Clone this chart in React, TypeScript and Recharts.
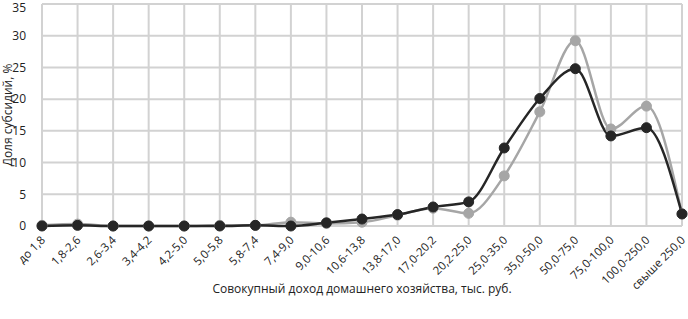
import { LineChart, Line, XAxis, YAxis, CartesianGrid } from "recharts";

// income brackets, thousand rubles
const categories = [
  "до 1,8",
  "1,8-2,6",
  "2,6-3,4",
  "3,4-4,2",
  "4,2-5,0",
  "5,0-5,8",
  "5,8-7,4",
  "7,4-9,0",
  "9,0-10,6",
  "10,6-13,8",
  "13,8-17,0",
  "17,0-20,2",
  "20,2-25,0",
  "25,0-35,0",
  "35,0-50,0",
  "50,0-75,0",
  "75,0-100,0",
  "100,0-250,0",
  "свыше 250,0",
];

const darkSeries = [0, 0.1, 0, 0, 0, 0, 0.1, 0, 0.5, 1.1, 1.8, 3.0, 3.8, 12.3, 20.1, 24.8, 14.2, 15.5, 1.9];
const lightSeries = [0.1, 0.3, 0, 0, 0, 0.1, 0.1, 0.6, 0.4, 0.6, 1.7, 2.8, 2.0, 7.9, 18.0, 29.2, 15.3, 18.9, 1.9];

const yTicks = [0, 5, 10, 15, 20, 25, 30, 35];

const data = categories.map((c, i) => ({
  name: c,
  dark: darkSeries[i],
  light: lightSeries[i],
}));

const FONT = "'Open Sans', sans-serif";

const XTick = (props: any) => {
  const { x, y, payload } = props;
  return (
    <g transform={`translate(${x + 1},${y + 4}) rotate(-45)`}>
      <text x={0} y={0} dy="0.35em" textAnchor="end" fontSize={11.5} fill="#222" fontFamily={FONT}>
        {payload.value}
      </text>
    </g>
  );
};

export default function App() {
  return (
    <div style={{ position: "absolute", left: 0, top: 0 }}>
      <LineChart width={688} height={319} data={data} margin={{ top: 4, right: 6, left: 0, bottom: 0 }}>
        <CartesianGrid stroke="#d2d2d2" strokeWidth={2} />
        <XAxis
          dataKey="name"
          interval={0}
          height={93}
          axisLine={false}
          tickLine={false}
          tick={<XTick />}
          label={{
            value: "Совокупный доход домашнего хозяйства, тыс. руб.",
            position: "insideBottom",
            offset: 26,
            fontSize: 12,
            fill: "#222",
            fontFamily: FONT,
          }}
        />
        <YAxis
          width={42}
          domain={[0, 35]}
          ticks={yTicks}
          axisLine={false}
          tickLine={false}
          tickMargin={10}
          tick={{ fontSize: 12, fill: "#222", fontFamily: FONT }}
          label={{
            value: "Доля субсидий, %",
            angle: -90,
            position: "insideLeft",
            offset: 8,
            fontSize: 12,
            fill: "#222",
            fontFamily: FONT,
            style: { textAnchor: "middle" },
          }}
        />
        <Line
          type="monotone"
          dataKey="light"
          stroke="#a6a6a6"
          strokeWidth={2.5}
          dot={{ r: 5, fill: "#a6a6a6", stroke: "#a6a6a6", strokeWidth: 1 }}
          isAnimationActive={false}
        />
        <Line
          type="monotone"
          dataKey="dark"
          stroke="#262626"
          strokeWidth={2.5}
          dot={{ r: 5, fill: "#262626", stroke: "#262626", strokeWidth: 1 }}
          isAnimationActive={false}
        />
      </LineChart>
    </div>
  );
}
